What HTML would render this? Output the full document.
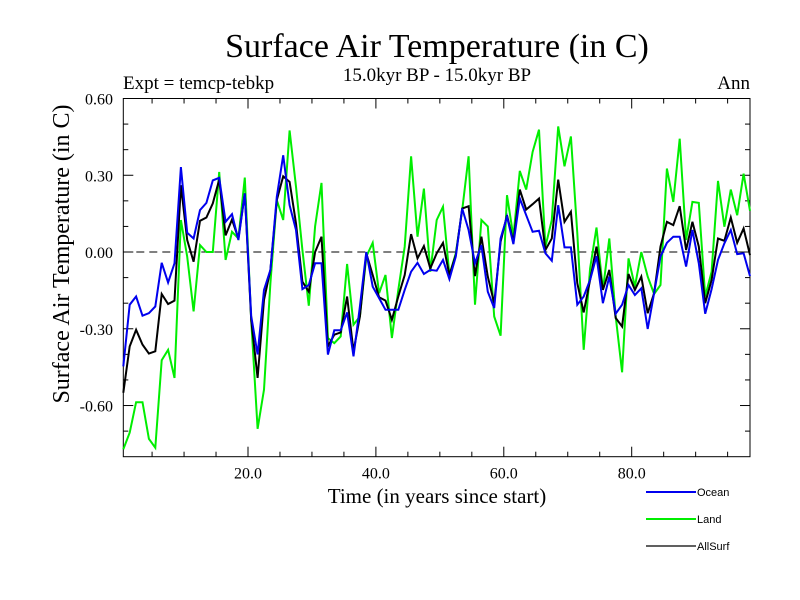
<!DOCTYPE html>
<html><head><meta charset="utf-8"><style>
body{margin:0;background:#fff;}
svg{display:block;font-family:"Liberation Serif",serif;}
</style></head><body>
<svg id="chart" width="800" height="600" xmlns="http://www.w3.org/2000/svg">
<rect width="800" height="600" fill="#fff"/>
<text x="437" y="57" font-size="34" text-anchor="middle">Surface Air Temperature (in C)</text>
<text x="437" y="81" font-size="19" text-anchor="middle">15.0kyr BP - 15.0kyr BP</text>
<text x="123" y="89" font-size="19">Expt = temcp-tebkp</text>
<text x="750" y="89" font-size="19" text-anchor="end">Ann</text>
<text transform="translate(69,254) rotate(-90)" font-size="24" text-anchor="middle">Surface Air Temperature (in C)</text>
<text x="437" y="503" font-size="21" text-anchor="middle">Time (in years since start)</text>
<g id="axes"></g>
<g id="series"></g>
<g id="legend" font-family="Liberation Sans, sans-serif" font-size="11"></g>
</svg>
<script>
const xTicks = [20, 40, 60, 80];
const xTickLabels = ["20.0", "40.0", "60.0", "80.0"];
const yTicks = [0.6, 0.3, 0, -0.3, -0.6];
const yTickLabels = ["0.60", "0.30", "0.00", "-0.30", "-0.60"];
const seriesNames = ["Land", "AllSurf", "Ocean"];
const ocean = [-0.447,-0.206,-0.174,-0.249,-0.239,-0.213,-0.042,-0.119,-0.044,0.332,0.075,0.053,0.164,0.192,0.28,0.29,0.118,0.148,0.047,0.229,-0.25,-0.40,-0.148,-0.07,0.216,0.378,
0.183,0.086,-0.145,-0.129,-0.044,-0.044,-0.401,-0.306,-0.306,-0.236,-0.408,-0.213,0.0,-0.135,-0.18,-0.226,-0.226,-0.226,-0.148,-0.077,-0.042,-0.086,-0.07,-0.073,-0.031,
-0.106,-0.018,0.17,0.086,-0.044,0.027,-0.155,-0.219,0.053,0.138,0.031,0.209,0.144,0.079,0.083,-0.005,-0.034,0.183,0.018,0.018,-0.206,-0.174,-0.109,-0.016,-0.2,
-0.096,-0.241,-0.206,-0.129,-0.168,-0.142,-0.301,-0.161,-0.018,0.036,0.06,0.06,-0.057,0.086,-0.044,-0.241,-0.145,-0.031,0.034,0.086,-0.008,-0.005,-0.094];
const land = [-0.771,-0.706,-0.587,-0.587,-0.73,-0.765,-0.423,-0.382,-0.492,0.125,-0.018,-0.232,0.027,0.0,0.0,0.313,-0.031,0.079,0.053,0.291,-0.265,-0.691,-0.538,-0.122,0.203,0.125,
0.475,0.255,0.008,-0.21,0.1,0.27,-0.336,-0.356,-0.33,-0.047,-0.284,-0.252,-0.018,0.036,-0.161,-0.09,-0.336,-0.148,0.021,0.374,0.06,0.248,-0.077,0.125,0.177,
-0.09,-0.005,0.164,0.374,-0.206,0.125,0.1,-0.252,-0.327,0.222,0.06,0.317,0.244,0.391,0.478,0.021,0.125,0.491,0.335,0.452,0.073,-0.382,-0.064,0.096,-0.148,
0.053,-0.252,-0.47,-0.025,-0.135,0.0,-0.096,-0.164,-0.129,0.326,0.196,0.443,0.047,0.196,0.192,-0.174,-0.077,0.278,0.099,0.244,0.144,0.306,0.161];
const allSurf = [-0.55,-0.369,-0.304,-0.362,-0.397,-0.388,-0.164,-0.203,-0.19,0.261,0.047,-0.038,0.122,0.135,0.19,0.283,0.065,0.127,0.053,0.229,-0.265,-0.492,-0.187,-0.07,0.203,0.296,
0.274,0.112,-0.116,-0.155,0.0,0.06,-0.369,-0.323,-0.314,-0.174,-0.388,-0.252,-0.005,-0.09,-0.177,-0.19,-0.265,-0.174,-0.09,0.07,-0.025,0.023,-0.064,-0.005,0.036,
-0.09,-0.012,0.17,0.179,-0.094,0.06,-0.096,-0.2,0.04,0.144,0.04,0.244,0.166,0.187,0.209,0.008,0.053,0.283,0.118,0.157,-0.122,-0.236,-0.109,0.021,-0.148,
-0.07,-0.258,-0.291,-0.086,-0.148,-0.096,-0.239,-0.161,0.021,0.118,0.105,0.179,0.008,0.118,0.021,-0.2,-0.109,0.053,0.044,0.135,0.036,0.092,-0.012];

const NS = "http://www.w3.org/2000/svg";
const L = 123.3, R = 750, T = 98.5, B = 456.7;
const xMin = 0.5, xMax = 98.5, yMin = -0.8, yMax = 0.6;
function xs(v){ return L + (v - xMin) / (xMax - xMin) * (R - L); }
function ys(v){ return B - (v - yMin) / (yMax - yMin) * (B - T); }
function mk(tag, attrs, parent){ const e = document.createElementNS(NS, tag); for (const k in attrs) e.setAttribute(k, attrs[k]); parent.appendChild(e); return e; }
const axes = document.getElementById('axes');
const frame = mk('rect', {x:L, y:T, width:R-L, height:B-T, fill:'none', stroke:'#000', 'stroke-width':1}, axes);


const zero = mk('line', {x1:L, x2:R, y1:ys(0), y2:ys(0), stroke:'#000', 'stroke-width':1, 'stroke-dasharray':'8,5'}, axes);


for (let v = 5; v < xMax; v += 5) {
  const major = v % 20 === 0;
  const len = major ? 10 : 5;
  mk('line', {x1:xs(v), x2:xs(v), y1:B, y2:B-len, stroke:'#000'}, axes);
  mk('line', {x1:xs(v), x2:xs(v), y1:T, y2:T+len, stroke:'#000'}, axes);
}
for (let k = -7; k <= 5; k++) {
  const v = k / 10;
  const major = k % 3 === 0;
  const len = major ? 10 : 5;
  mk('line', {x1:L, x2:L+len, y1:ys(v), y2:ys(v), stroke:'#000'}, axes);
  mk('line', {x1:R, x2:R-len, y1:ys(v), y2:ys(v), stroke:'#000'}, axes);
}
xTicks.forEach((v, i) => {
  const t = mk('text', {x:xs(v), y:B+22, 'font-size':16, 'text-anchor':'middle'}, axes);
  t.textContent = xTickLabels[i];
  
  
});
yTicks.forEach((v, i) => {
  const t = mk('text', {x:113, y:ys(v)+6, 'font-size':16, 'text-anchor':'end'}, axes);
  t.textContent = yTickLabels[i];
  
  
});
const seriesG = document.getElementById('series');
const data = {Land: land, AllSurf: allSurf, Ocean: ocean};
const colors = {Land: '#00ee00', AllSurf: '#000000', Ocean: '#0000ee'};
seriesNames.forEach(name => {
  const vals = data[name];
  const pts = vals.map((v, i) => xs(0.5 + i).toFixed(1) + ',' + ys(v).toFixed(1)).join(' ');
  const pl = mk('polyline', {points:pts, fill:'none', stroke:colors[name], 'stroke-width':2, 'stroke-linejoin':'miter'}, seriesG);
  
  
});
const lg = document.getElementById('legend');
[["Ocean", 492], ["Land", 519], ["AllSurf", 546]].forEach(([name, y]) => {
  const g = mk('g', {}, lg);
  
  
  mk('line', {x1:646, x2:696, y1:y, y2:y, stroke:colors[name], 'stroke-width': name === 'AllSurf' ? 1.2 : 2}, g);
  const t = mk('text', {x:697, y:y+4}, g);
  t.textContent = name;
});
</script>
</body></html>
